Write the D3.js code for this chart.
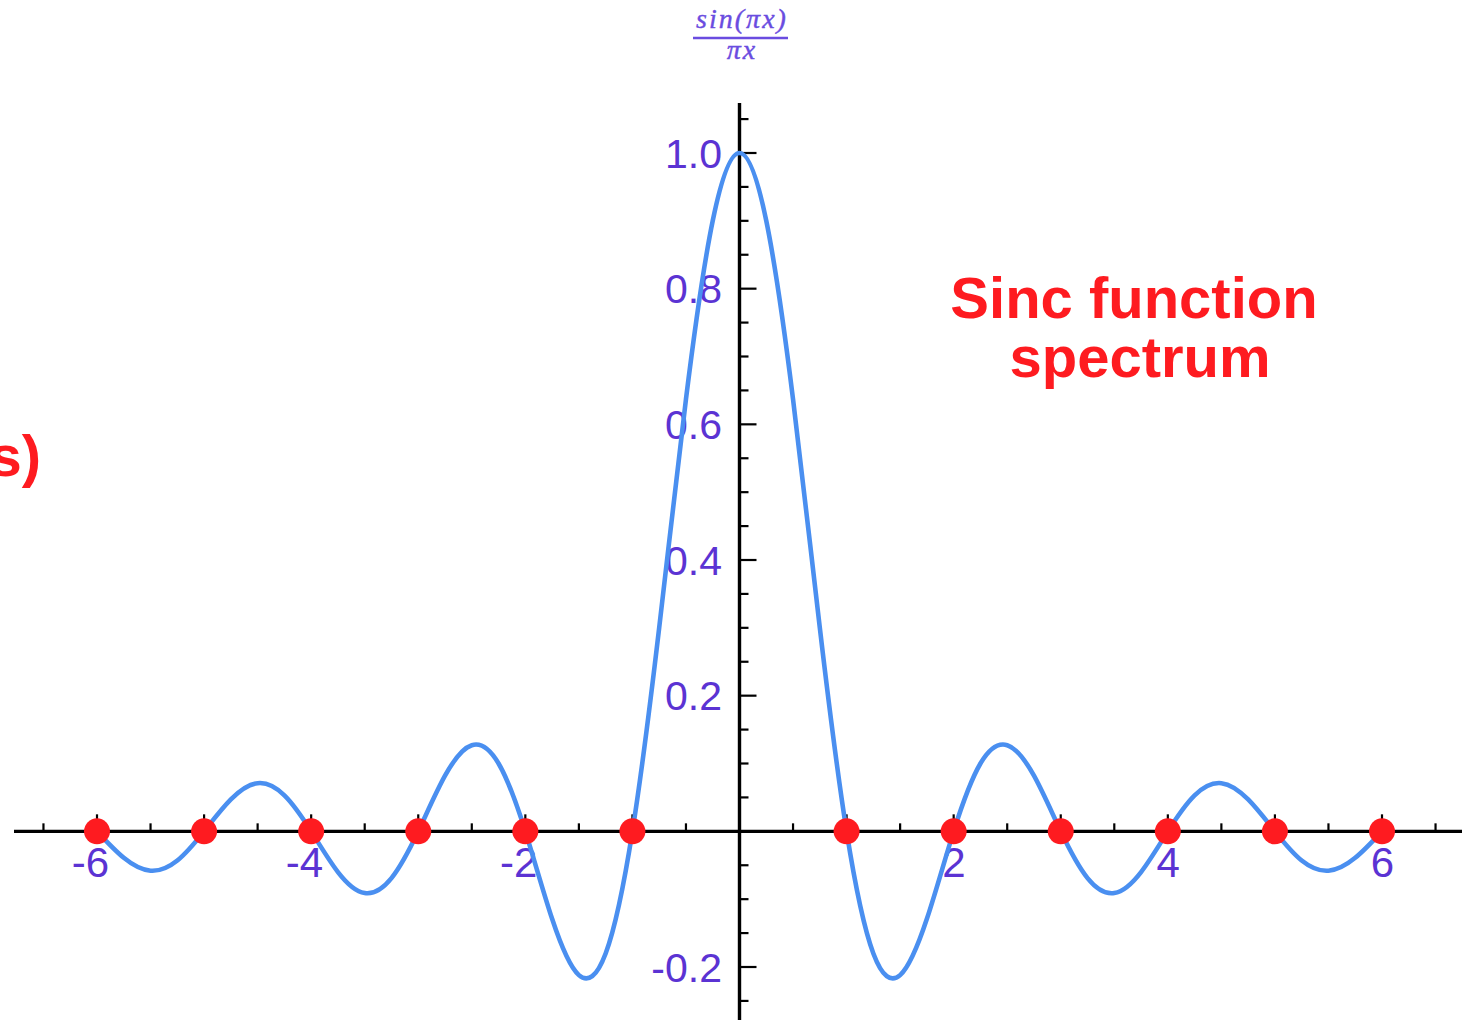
<!DOCTYPE html>
<html>
<head>
<meta charset="utf-8">
<script src="https://cdn.jsdelivr.net/npm/d3@7"></script>
<style>
  html, body { margin: 0; padding: 0; background: #ffffff; }
  svg { display: block; }
</style>
</head>
<body>
<svg id="chart" width="1469" height="1022"></svg>
<script>
// Curve samples of sin(pi x)/(pi x), every quarter unit from -6 to 6
const curveX = [
  -6, -5.75, -5.5, -5.25, -5, -4.75, -4.5, -4.25, -4, -3.75, -3.5, -3.25,
  -3, -2.75, -2.5, -2.25, -2, -1.75, -1.5, -1.25, -1, -0.75, -0.5, -0.25,
  0, 0.25, 0.5, 0.75, 1, 1.25, 1.5, 1.75, 2, 2.25, 2.5, 2.75,
  3, 3.25, 3.5, 3.75, 4, 4.25, 4.5, 4.75, 5, 5.25, 5.5, 5.75, 6
];
const curveY = [
  0, -0.039, -0.058, -0.043, 0, 0.047, 0.071, 0.053, 0, -0.060, -0.091, -0.069,
  0, 0.082, 0.127, 0.100, 0, -0.129, -0.212, -0.180, 0, 0.300, 0.637, 0.900,
  1, 0.900, 0.637, 0.300, 0, -0.180, -0.212, -0.129, 0, 0.100, 0.127, 0.082,
  0, -0.069, -0.091, -0.060, 0, 0.053, 0.071, 0.047, 0, -0.043, -0.058, -0.039, 0
];

// Sample points (zero crossings) marked in red
const sampleX = [-6, -5, -4, -3, -2, -1, 1, 2, 3, 4, 5, 6];
const sampleY = [0, 0, 0, 0, 0, 0, 0, 0, 0, 0, 0, 0];

// Axis labels
const xTickLabels = [-6, -4, -2, 2, 4, 6];
const yTickLabels = [-0.2, 0.2, 0.4, 0.6, 0.8, 1.0];

const purple = "#5b33d3";
const blue = "#4a8ff0";
const red = "#fe1b20";

const svg = d3.select("#chart");

const x = d3.scaleLinear().domain([-6, 6]).range([97, 1382]);
const y = d3.scaleLinear().domain([-0.2, 1]).range([967, 153]);

const axisG = svg.append("g");

// Horizontal axis line
axisG.append("line")
  .attr("x1", 14).attr("x2", 1462)
  .attr("y1", y(0)).attr("y2", y(0))
  .attr("stroke", "#000").attr("stroke-width", 3.4);

// Horizontal ticks every half unit, pointing up; whole units longer
const xTicks = d3.range(-13, 14).map(d => d / 2);
axisG.selectAll(".xt").data(xTicks).join("line")
  .attr("x1", d => x(d)).attr("x2", d => x(d))
  .attr("y1", y(0))
  .attr("y2", d => y(0) - (Number.isInteger(d) ? 17 : 8))
  .attr("stroke", "#000").attr("stroke-width", 2.2);

// Vertical axis line
axisG.append("line")
  .attr("x1", x(0)).attr("x2", x(0))
  .attr("y1", 103).attr("y2", 1020)
  .attr("stroke", "#000").attr("stroke-width", 3.4);

// Vertical ticks every 0.05, pointing right; multiples of 0.2 longer
const yTicks = d3.range(-5, 22).map(d => d * 0.05);
axisG.selectAll(".yt").data(yTicks).join("line")
  .attr("x1", x(0)).attr("x2", d => x(0) + (Math.abs(d / 0.2 - Math.round(d / 0.2)) < 1e-6 ? 17 : 9))
  .attr("y1", d => y(d)).attr("y2", d => y(d))
  .attr("stroke", "#000").attr("stroke-width", 2.2);

// Tick labels
svg.append("g").selectAll("text").data(xTickLabels).join("text")
  .attr("x", d => x(d) + 12)
  .attr("y", 877)
  .attr("text-anchor", "end")
  .attr("font-family", "'Liberation Sans', Arial, sans-serif")
  .attr("font-size", 42)
  .attr("fill", purple)
  .text(d => d3.format("")(d).replace("−", "-"));

svg.append("g").selectAll("text").data(yTickLabels).join("text")
  .attr("x", 722)
  .attr("y", d => y(d))
  .attr("dy", "0.36em")
  .attr("text-anchor", "end")
  .attr("font-family", "'Liberation Sans', Arial, sans-serif")
  .attr("font-size", 41)
  .attr("fill", purple)
  .text(d => d3.format(".1f")(d).replace("−", "-"));

// The sinc curve
const pts = curveX.map((d, i) => [d, curveY[i]]);
const line = d3.line()
  .x(d => x(d[0]))
  .y(d => y(d[1]))
  .curve(d3.curveNatural);
svg.append("path")
  .attr("d", line(pts))
  .attr("fill", "none")
  .attr("stroke", blue)
  .attr("stroke-width", 4.6)
  .attr("stroke-linejoin", "round");

// Sample dots
svg.append("g").selectAll("circle").data(sampleX).join("circle")
  .attr("cx", d => x(d))
  .attr("cy", (d, i) => y(sampleY[i]))
  .attr("r", 13)
  .attr("fill", red);

// Formula heading
const formula = svg.append("g")
  .attr("font-family", "'Liberation Serif', 'DejaVu Serif', serif")
  .attr("font-style", "italic")
  .attr("font-size", 28)
  .attr("letter-spacing", 2)
  .attr("fill", "#6a4ce0")
  .attr("stroke", "#6a4ce0")
  .attr("stroke-width", 0.4)
  .attr("text-anchor", "middle");
formula.append("text").attr("x", 742).attr("y", 28).text("sin(\u03C0x)");
formula.append("line")
  .attr("x1", 693).attr("x2", 788).attr("y1", 38).attr("y2", 38)
  .attr("stroke", "#6a4ce0").attr("stroke-width", 2.6);
formula.append("text").attr("x", 742).attr("y", 59).text("\u03C0x");

// Annotation text
const note = svg.append("g")
  .attr("font-family", "'Liberation Sans', Arial, sans-serif")
  .attr("font-weight", "bold")
  .attr("font-size", 58)
  .attr("fill", red);
note.append("text").attr("x", 1134).attr("y", 318).attr("text-anchor", "middle").text("Sinc function");
note.append("text").attr("x", 1140).attr("y", 377).attr("text-anchor", "middle").text("spectrum");
note.append("text").attr("x", 41).attr("y", 476).attr("text-anchor", "end").text("s)");
</script>
</body>
</html>
